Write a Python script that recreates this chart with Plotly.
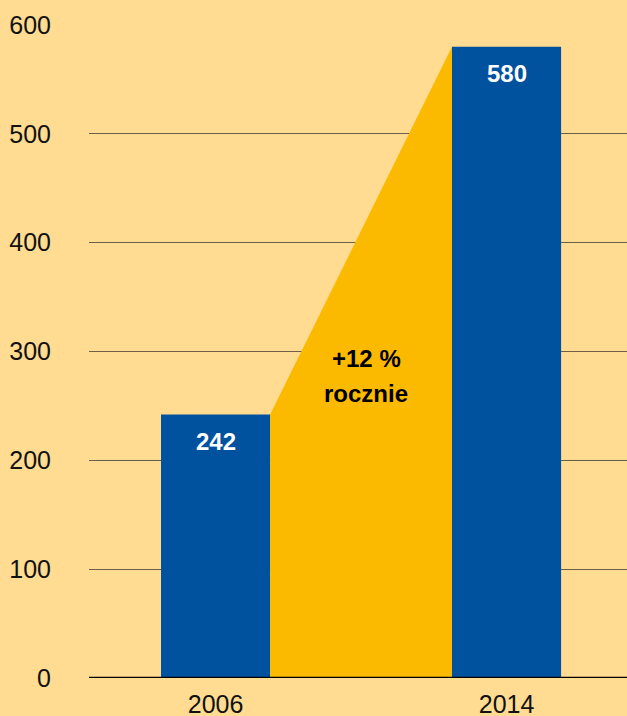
import plotly.graph_objects as go

years = ["2006", "2014"]
values = [242, 580]
bar_labels = ["242", "580"]
growth_lines = ["+12 %", "rocznie"]
y_ticks = [0, 100, 200, 300, 400, 500, 600]

BG = "#FFDC91"
BLUE = "#00529F"
YELLOW = "#FBBA00"
FONT = "Liberation Sans"
bw = 0.375
xpos = list(range(len(years)))

fig = go.Figure()
# growth polygon between the bars
poly_x = [xpos[0] + bw / 2, xpos[0] + bw / 2, xpos[1] - bw / 2, xpos[1] - bw / 2]
poly_y = [0, values[0], values[1], 0]
fig.add_trace(go.Scatter(x=poly_x, y=poly_y, fill="toself", fillcolor=YELLOW,
                         mode="none", hoverinfo="skip", showlegend=False))
fig.add_trace(go.Bar(x=xpos, y=values, width=bw, marker_color=BLUE, marker_line_width=0,
                     hoverinfo="skip", showlegend=False))
for x, v, t in zip(xpos, values, bar_labels):
    fig.add_annotation(x=x, y=v, text="<b>" + t + "</b>", showarrow=False, yanchor="middle",
                       yshift=-27, font=dict(family=FONT, size=24, color="white"))

for t, yv in zip(growth_lines, [294, 261]):
    fig.add_annotation(x=0.517, y=yv, text="<b>" + t + "</b>", showarrow=False,
                       yanchor="middle", font=dict(family=FONT, size=24, color="black"))

fig.update_layout(
    width=627, height=716,
    margin=dict(l=89, r=0, t=25, b=38),
    paper_bgcolor=BG, plot_bgcolor=BG,
    xaxis=dict(range=[-0.435, 1.414], tickvals=xpos, ticktext=years, showgrid=False,
               zeroline=False, ticks="outside", ticklen=4, tickcolor="rgba(0,0,0,0)",
               automargin=False,
               tickfont=dict(family=FONT, size=25, color="#111")),
    yaxis=dict(range=[0, 600], tickvals=y_ticks, showgrid=True, gridcolor="#6e6048",
               gridwidth=1, zeroline=False, ticks="outside", ticklen=32,
               tickcolor="rgba(0,0,0,0)", automargin=False,
               tickfont=dict(family=FONT, size=25, color="#111")),
    shapes=[dict(type="line", xref="paper", yref="y", x0=0, x1=1, y0=0, y1=0,
                 line=dict(color="black", width=2.5), layer="above")],
)

fig.write_html("out.html", config={"displayModeBar": False},
               post_script="document.body.style.margin='0px';")
